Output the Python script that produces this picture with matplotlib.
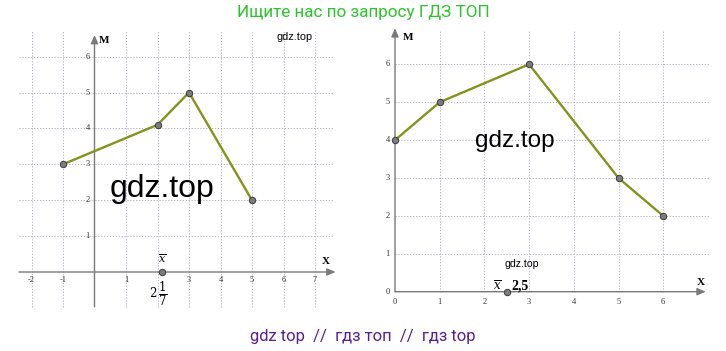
import matplotlib
matplotlib.use("Agg")
import matplotlib.pyplot as plt

# ---- data ----
left_x = [-1, 2, 3, 5]
left_m = [3, 4.1, 5, 2]
left_mean = 2 + 1/7
left_xticks = [-2, -1, 1, 3, 4, 5, 6, 7]
left_yticks = [1, 2, 3, 4, 5, 6]

right_x = [0, 1, 3, 5, 6]
right_m = [4, 5, 6, 3, 2]
right_mean = 2.5
right_xticks = [0, 1, 2, 3, 4, 5, 6]
right_yticks = [0, 1, 2, 3, 4, 5, 6]

W, H = 726, 351
fig = plt.figure(figsize=(W/100, H/100), dpi=100)

LINE_C = "#86921c"
GRID_C = "#a8a8c0"
AXIS_C = "#7a7a7a"
SERIF = "Liberation Serif"
MK = dict(ms=4.6, mfc="#7c7c7c", mec="#3a3a3a", mew=0.7, zorder=4)

def make_axes(px_left, px_right, px_top, px_bottom):
    return fig.add_axes([px_left/W, 1 - px_bottom/H, (px_right-px_left)/W, (px_bottom-px_top)/H])

def arrow(ax, xy_from, xy_to):
    ax.annotate("", xy=xy_to, xytext=xy_from,
                arrowprops=dict(arrowstyle="-|>,head_length=0.5,head_width=0.22",
                                color=AXIS_C, lw=1.0, shrinkA=0, shrinkB=0))

# ---- left chart ----
xl0, xlu, yl0, ylu = 94.5, 31.5, 272, 35.9
xlim = (-2.5, 7.7); ylim = (-1.0, 6.75)
axL = make_axes(xl0 + xlim[0]*xlu, xl0 + xlim[1]*xlu, yl0 - ylim[1]*ylu, yl0 - ylim[0]*ylu)
axL.set_xlim(*xlim); axL.set_ylim(*ylim); axL.axis("off")
for gx in range(-2, 8):
    if gx == 0:
        continue
    axL.plot([gx, gx], [-0.97, 6.7], ls=(0, (1.5, 2)), color=GRID_C, lw=0.6)
for gy in range(1, 7):
    axL.plot([-2.4, 7.6], [gy, gy], ls=(0, (1.5, 2)), color=GRID_C, lw=0.6)
arrow(axL, (-2.4, 0), (7.65, 0))
arrow(axL, (0, -0.97), (0, 6.6))
axL.plot(left_x, left_m, color=LINE_C, lw=1.7, zorder=3)
axL.plot(left_x, left_m, 'o', **MK)
axL.plot([left_mean], [0], 'o', **MK)
for t in left_xticks:
    axL.text(t, -0.22, str(t), ha="center", va="center", fontsize=6, family=SERIF, color="#333333")
for t in left_yticks:
    axL.text(-0.15, t, str(t), ha="right", va="center", fontsize=6, family=SERIF, color="#333333")
axL.text(0.3, 6.45, "M", fontsize=8, family=SERIF, weight="bold", ha="center", va="center")
axL.text(7.35, 0.3, "X", fontsize=8, family=SERIF, weight="bold", ha="center", va="center")
axL.text(left_mean, 0.38, r"$\overline{x}$", fontsize=8, ha="center", va="center",
         math_fontfamily="dejavuserif")
axL.text(left_mean - 0.1, -0.62, r"$2\,\dfrac{1}{7}$", fontsize=8.5, ha="center", va="center",
         math_fontfamily="dejavuserif")

# ---- right chart ----
xr0, xru, yr0, yru = 395, 44.7, 291.7, 37.9
xlim = (-0.4, 7.1); ylim = (-0.5, 7.1)
axR = make_axes(xr0 + xlim[0]*xru, xr0 + xlim[1]*xru, yr0 - ylim[1]*yru, yr0 - ylim[0]*yru)
axR.set_xlim(*xlim); axR.set_ylim(*ylim); axR.axis("off")
for gx in range(1, 7):
    axR.plot([gx, gx], [0, 6.9], ls=(0, (1.5, 2)), color=GRID_C, lw=0.6)
for gy in range(1, 7):
    axR.plot([0, 7.05], [gy, gy], ls=(0, (1.5, 2)), color=GRID_C, lw=0.6)
arrow(axR, (0, 0), (6.95, 0))
arrow(axR, (0, 0), (0, 6.95))
axR.plot(right_x, right_m, color=LINE_C, lw=1.7, zorder=3)
axR.plot(right_x, right_m, 'o', **MK)
axR.plot([right_mean], [0], 'o', **MK)
for t in right_xticks:
    axR.text(t, -0.28, str(t), ha="center", va="center", fontsize=6, family=SERIF, color="#333333")
for t in right_yticks:
    axR.text(-0.12, t, str(t), ha="right", va="center", fontsize=6, family=SERIF, color="#333333")
axR.text(0.3, 6.7, "M", fontsize=8, family=SERIF, weight="bold", ha="center", va="center")
axR.text(6.85, 0.25, "X", fontsize=8, family=SERIF, weight="bold", ha="center", va="center")
axR.text(right_mean - 0.22, 0.14, r"$\overline{x}$", fontsize=8.5, ha="center", va="center",
         math_fontfamily="dejavuserif")
axR.text(right_mean + 0.1, 0.14, "2,5", fontsize=10, family=SERIF, weight="bold", ha="left", va="center")

# ---- texts ----
fig.text(363/W, 1 - 12/H, "Ищите нас по запросу ГДЗ ТОП", ha="center", va="center",
         fontsize=12.3, family="Roboto", color="#2bc42b")
fig.text(363/W, 1 - 336/H, "gdz top  //  гдз топ  //  гдз top", ha="center", va="center",
         fontsize=12, family="Roboto", color="#5b1d8f")
fig.text(162/W, 1 - 189/H, "gdz.top", ha="center", va="center", fontsize=23, family="Liberation Sans")
fig.text(515/W, 1 - 141/H, "gdz.top", ha="center", va="center", fontsize=17.5, family="Liberation Sans")
fig.text(295/W, 1 - 37/H, "gdz.top", ha="center", va="center", fontsize=7.8, family="Liberation Sans")
fig.text(522/W, 1 - 264/H, "gdz.top", ha="center", va="center", fontsize=7.6, family="Liberation Sans")

fig.savefig("out.png", dpi=100, facecolor="white")
